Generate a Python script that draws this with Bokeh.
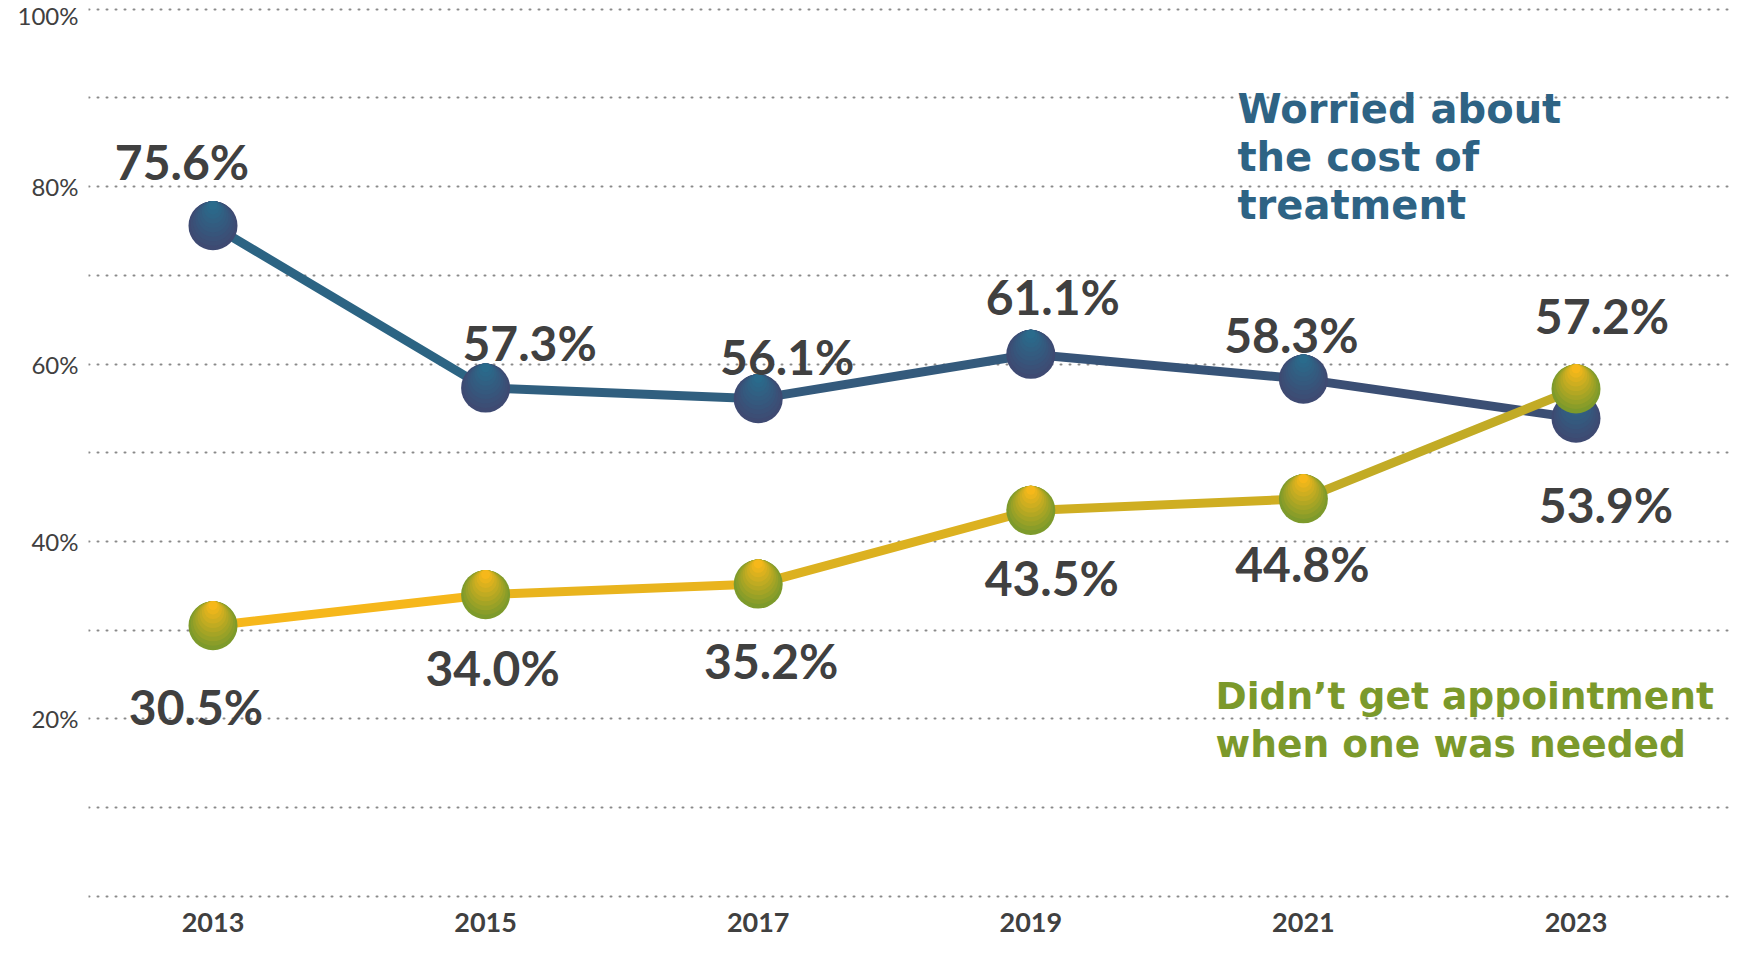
from bokeh.plotting import figure
from bokeh.models import Range1d, FixedTicker, PrintfTickFormatter, ColumnDataSource, Label
from bokeh.core.properties import value
from bokeh.embed import file_html
from bokeh.resources import INLINE

# ---------------- data ----------------
years = [2013, 2015, 2017, 2019, 2021, 2023]
year_labels = ["2013", "2015", "2017", "2019", "2021", "2023"]
worried_cost = [75.6, 57.3, 56.1, 61.1, 58.3, 53.9]
no_appointment = [30.5, 34.0, 35.2, 43.5, 44.8, 57.2]
y_tick_values = [20, 40, 60, 80, 100]
grid_values = [0, 10, 20, 30, 40, 50, 60, 70, 80, 90, 100]
series_names = ["Worried about\nthe cost of\ntreatment", "Didn\u2019t get appointment\nwhen one was needed"]

# ---------------- style / layout ----------------
W, H = 1729, 937
FRAME_LEFT = 88
PX_PER_YEAR = 136.3
X_CENTER_YEAR, X_CENTER_PX = 2018, 894
Y_ZERO_PX, PX_PER_PCT = 890, 8.813
FRAME_HEIGHT = 931          # drawing area height as laid out by Bokeh

x_start = X_CENTER_YEAR - (X_CENTER_PX - FRAME_LEFT) / PX_PER_YEAR
x_end = X_CENTER_YEAR + (W - X_CENTER_PX) / PX_PER_YEAR
y_end = 100 + 8.7 / PX_PER_PCT
y_start = y_end - FRAME_HEIGHT / PX_PER_PCT


def fx(px):
    return x_start + (px - FRAME_LEFT) / PX_PER_YEAR


def fy(py):
    return y_end - py / PX_PER_PCT


def lerp_hex(c0, c1, t):
    a = [int(c0[i:i + 2], 16) for i in (1, 3, 5)]
    b = [int(c1[i:i + 2], 16) for i in (1, 3, 5)]
    return "#" + "".join(f"{round(a[j] + (b[j] - a[j]) * t):02x}" for j in range(3))


BLUE_LINE_START, BLUE_LINE_END = "#2c6483", "#3b4f74"
BLUE_DOT_TOP, BLUE_DOT_BOTTOM = "#2a6b8c", "#3e4a72"
YEL_LINE_START, YEL_LINE_END = "#f6b71b", "#c2ab25"
YEL_DOT_TOP, YEL_DOT_BOTTOM = "#f6b81a", "#7d9a2b"
BLUE_TXT = "#2e6384"
GREEN_TXT = "#7b992b"
LABEL_CLR = "#404040"
DOT_D = 49
LINE_W = 9
YEAR_LABEL_PX = 916

worried_dx = [-31, 44, 29, 22, -12, 30]
worried_dy = [-64, -45, -42, -58, -45, 86]
appt_dx = [-17, 7, 13, 21, -1, 26]
appt_dy = [81, 73, 76, 67, 65, -73]

p = figure(width=W, height=H, output_backend="svg", toolbar_location=None,
           x_range=Range1d(x_start, x_end), y_range=Range1d(y_start, y_end),
           x_axis_location=None,
           min_border_left=FRAME_LEFT, min_border_right=0, min_border_top=0, min_border_bottom=0)
p.outline_line_color = None
p.background_fill_color = "white"
p.border_fill_color = "white"

# grid
p.xgrid.visible = False
p.ygrid.ticker = FixedTicker(ticks=grid_values)
p.ygrid.grid_line_color = "#8a8a8a"
p.ygrid.grid_line_width = 2
p.ygrid.grid_line_dash = "1 8"
p.ygrid.grid_line_cap = "round"

# y axis
p.yaxis.ticker = FixedTicker(ticks=y_tick_values)
p.yaxis.formatter = PrintfTickFormatter(format="%d%%")
p.yaxis.axis_line_color = None
p.yaxis.major_tick_line_color = None
p.yaxis.minor_tick_line_color = None
p.yaxis.major_tick_out = 0
p.yaxis.major_label_standoff = 10
p.yaxis.major_label_text_font = "Lato"
p.yaxis.major_label_text_font_size = "24px"
p.yaxis.major_label_text_color = LABEL_CLR

# year labels along the bottom
p.text(x=years, y=[fy(YEAR_LABEL_PX)] * len(years), text=year_labels,
       text_font=value("Lato"), text_font_style="bold", text_font_size="27px",
       text_color=LABEL_CLR, text_align="center", text_baseline="middle")


def draw_series(vals, line_c0, line_c1, dot_top, dot_bottom):
    n = len(vals) - 1
    seg = ColumnDataSource(dict(x0=years[:-1], y0=vals[:-1], x1=years[1:], y1=vals[1:],
                                c=[lerp_hex(line_c0, line_c1, i / max(n - 1, 1)) for i in range(n)]))
    p.segment("x0", "y0", "x1", "y1", source=seg, line_color="c", line_width=LINE_W, line_cap="round")
    layers = 10
    for k in range(layers):
        t = k / (layers - 1)
        d = DOT_D - 40 * t
        shift = (DOT_D - d) / 2 / PX_PER_PCT
        p.circle(years, [v + shift for v in vals], radius=d / 2, radius_units="screen",
                 fill_color=lerp_hex(dot_bottom, dot_top, t), line_color=None)


draw_series(worried_cost, BLUE_LINE_START, BLUE_LINE_END, BLUE_DOT_TOP, BLUE_DOT_BOTTOM)
draw_series(no_appointment, YEL_LINE_START, YEL_LINE_END, YEL_DOT_TOP, YEL_DOT_BOTTOM)

# value labels
src_w = ColumnDataSource(dict(x=years, y=worried_cost,
                              lab=[f"{v:.1f}%" for v in worried_cost],
                              dx=worried_dx, dy=worried_dy))
src_a = ColumnDataSource(dict(x=years, y=no_appointment,
                              lab=[f"{v:.1f}%" for v in no_appointment],
                              dx=appt_dx, dy=appt_dy))
for src in (src_w, src_a):
    p.text("x", "y", text="lab", source=src, x_offset="dx", y_offset="dy",
           text_font=value("Lato"), text_font_style="bold", text_font_size="48px",
           text_color=LABEL_CLR, text_align="center", text_baseline="middle")

# series name labels
for i, t in enumerate(series_names[0].split("\n")):
    p.add_layout(Label(x=fx(1237), y=fy(108 + 47.5 * i), text=t, text_font="DejaVu Sans",
                       text_font_style="bold", text_font_size="40px", text_color=BLUE_TXT,
                       text_align="left", text_baseline="middle"))
for i, t in enumerate(series_names[1].split("\n")):
    p.add_layout(Label(x=fx(1215), y=fy(691 + 48 * i), text=t, text_font="DejaVu Sans",
                       text_font_style="bold", text_font_size="37.6px", text_color=GREEN_TXT,
                       text_align="left", text_baseline="middle"))

open("out.html", "w").write(file_html(p, INLINE))
